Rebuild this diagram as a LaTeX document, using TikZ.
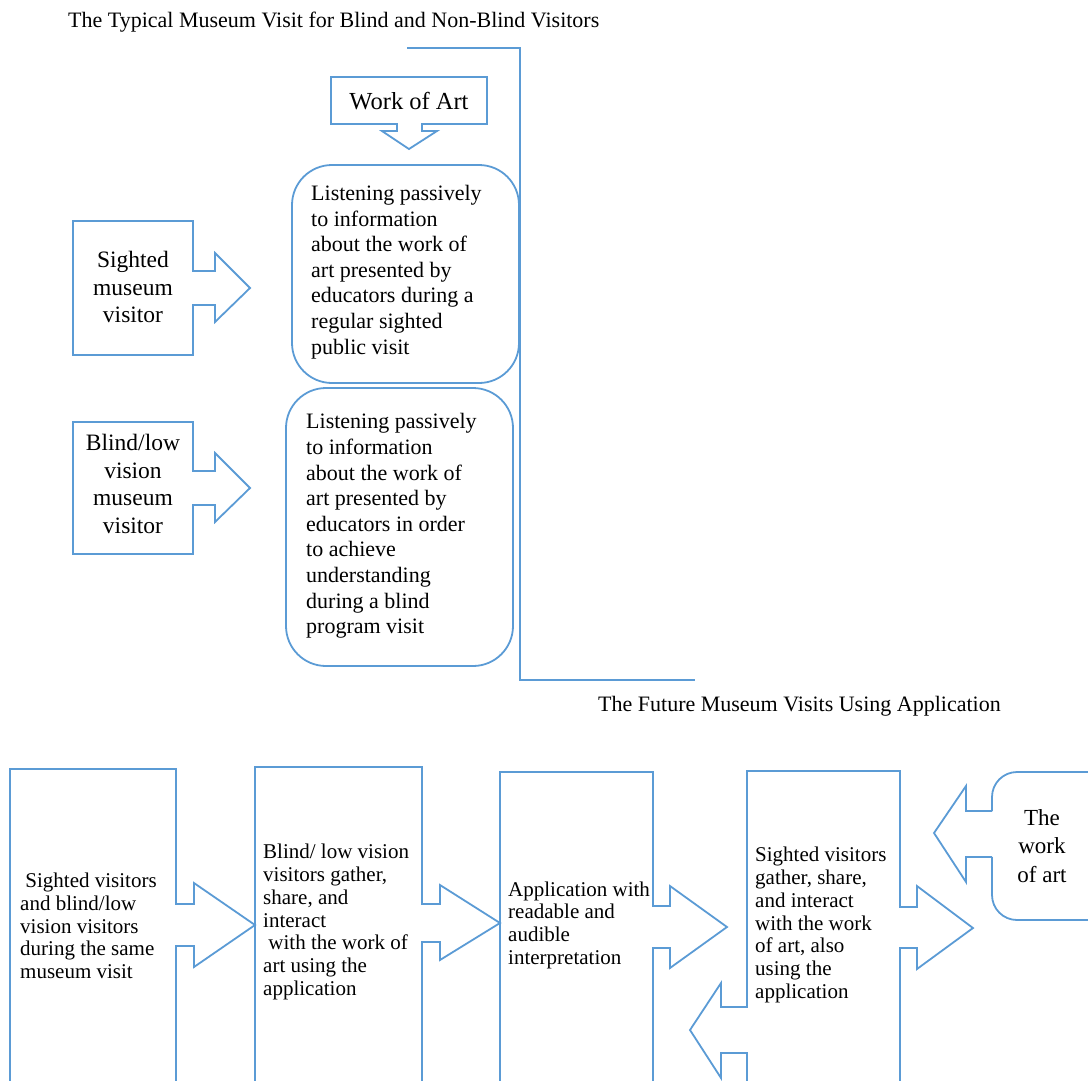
\documentclass[tikz,border=0pt]{standalone}
\usepackage{fontspec}
\setmainfont{Liberation Serif}
\definecolor{lineblue}{RGB}{91,155,213}
\begin{document}
\begin{tikzpicture}[x=1pt,y=-1pt,
  shapeline/.style={draw=lineblue, line width=1.8pt, line join=miter},
  boxtext/.style={inner sep=0pt, align=left, anchor=west, font=\fontsize{21}{22.7}\selectfont},
  roundtext/.style={inner sep=0pt, align=left, anchor=west, font=\fontsize{22}{25.6}\selectfont},
  sidetext/.style={inner sep=0pt, align=center, font=\fontsize{23.5}{27.5}\selectfont},
  titletext/.style={inner sep=0pt, anchor=base west, font=\fontsize{22}{26}\selectfont}]
\useasboundingbox (0,0) rectangle (1088,1080);
\clip (0,0) rectangle (1088,1080);

% titles
\node[titletext] (title1) at (68,27) {The Typical Museum Visit for Blind and Non-Blind Visitors};
\node[titletext] (title2) at (598,711) {The Future Museum Visits Using Application};

% bracket line
\draw[shapeline] (407,48) -- (520,48) -- (520,680) -- (695,680);

% Work of Art callout
\draw[shapeline] (331,77) -- (487,77) -- (487,124) -- (422,124) -- (422,131) -- (437,131) -- (409,149) -- (382,131) -- (397,131) -- (397,124) -- (331,124) -- cycle;
\node[inner sep=0pt, font=\fontsize{24.5}{28}\selectfont] (work) at (409,101) {Work of Art};

% Sighted callout
\draw[shapeline] (73,221) -- (193,221) -- (193,271) -- (215,271) -- (215,253) -- (250,288) -- (215,322) -- (215,305) -- (193,305) -- (193,355) -- (73,355) -- cycle;
\node[sidetext] (sighted) at (133,287) {Sighted\\museum\\visitor};

% Blind callout
\draw[shapeline] (73,422) -- (193,422) -- (193,471) -- (215,471) -- (215,453) -- (250,488) -- (215,522) -- (215,505) -- (193,505) -- (193,554) -- (73,554) -- cycle;
\node[sidetext] (blind) at (133,484) {Blind/low\\vision\\museum\\visitor};

% rounded boxes
\draw[shapeline, rounded corners=40] (292,165) rectangle (519,383);
\node[roundtext] (listen1) at (311,272) {Listening passively\\to information\\about the work of\\art presented by\\educators during a\\regular sighted\\public visit};
\draw[shapeline, rounded corners=40] (286,388) rectangle (513,666);
\node[roundtext] (listen2) at (306,526) {Listening passively\\to information\\about the work of\\art presented by\\educators in order\\to achieve\\understanding\\during a blind\\program visit};

% bottom box A
\draw[shapeline] (10,1090) -- (10,769) -- (176,769) -- (176,904) -- (194,904) -- (194,883) -- (255,925) -- (194,967) -- (194,946) -- (176,946) -- (176,1090);
\node[boxtext] (boxA) at (20,926) {\hspace*{0.25em}Sighted visitors\\and blind/low\\vision visitors\\during the same\\museum visit};

% bottom box B
\draw[shapeline] (255,1090) -- (255,767) -- (422,767) -- (422,904) -- (440,904) -- (440,885) -- (500,923) -- (440,960) -- (440,942) -- (422,942) -- (422,1090);
\node[boxtext] (boxB) at (263,922) {Blind/ low vision\\visitors gather,\\share, and\\interact\\\hspace*{0.25em}with the work of\\art using the\\application};

% bottom box C
\draw[shapeline] (500,1090) -- (500,772) -- (653,772) -- (653,906) -- (670,906) -- (670,886) -- (727,927) -- (670,968) -- (670,948) -- (653,948) -- (653,1090);
\node[boxtext] (boxC) at (508,925) {Application with\\readable and\\audible\\interpretation};

% bottom box D
\draw[shapeline] (747,1090) -- (747,1053) -- (721,1053) -- (721,1078) -- (690,1030) -- (721,983) -- (721,1007) -- (747,1007) -- (747,771) -- (900,771) -- (900,907) -- (917,907) -- (917,886) -- (973,928) -- (917,969) -- (917,948) -- (900,948) -- (900,1090);
\node[boxtext] (boxD) at (755,925) {Sighted visitors\\gather, share,\\and interact\\with the work\\of art, also\\using the\\application};

% box E (the work of art)
\draw[shapeline, rounded corners=25] (992,811) -- (992,772) -- (1110,772);
\draw[shapeline, rounded corners=25] (992,857) -- (992,920) -- (1110,920);
\draw[shapeline] (992,811) -- (966,811) -- (966,786) -- (934,833) -- (966,882) -- (966,857) -- (992,857);
\node[sidetext, font=\fontsize{23}{28.5}\selectfont] (boxE) at (1042,846) {The\\work\\of art};
\end{tikzpicture}
\end{document}
